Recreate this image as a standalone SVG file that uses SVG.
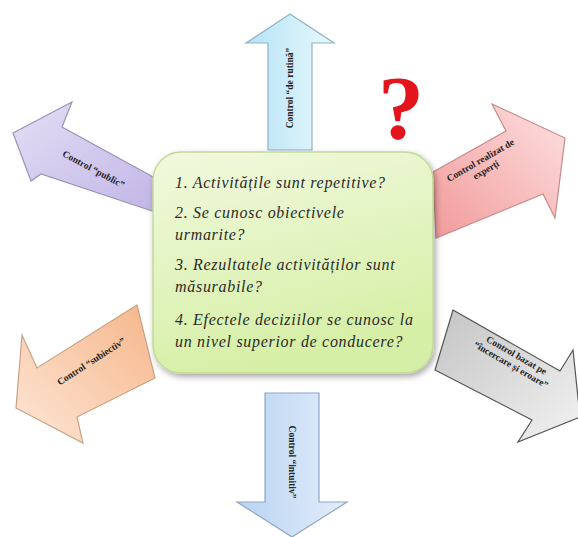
<svg xmlns="http://www.w3.org/2000/svg" width="578" height="537" viewBox="0 0 578 537">
<defs>
<linearGradient id="gUp" x1="0" y1="0" x2="1" y2="0"><stop offset="0" stop-color="#b4e3f5"/><stop offset="1" stop-color="#e9f8fd"/></linearGradient>
<linearGradient id="gDown" x1="0" y1="0" x2="1" y2="0"><stop offset="0" stop-color="#b9d3f2"/><stop offset="1" stop-color="#e3edfa"/></linearGradient>
<linearGradient id="gPurple" x1="0" y1="0" x2="1" y2="1"><stop offset="0" stop-color="#e3def5"/><stop offset="1" stop-color="#c2b6e6"/></linearGradient>
<linearGradient id="gRed" x1="0" y1="1" x2="1" y2="0"><stop offset="0" stop-color="#f29a9a"/><stop offset="1" stop-color="#fde1e1"/></linearGradient>
<linearGradient id="gOrange" x1="1" y1="0" x2="0" y2="1"><stop offset="0" stop-color="#f6b68a"/><stop offset="1" stop-color="#fde6d6"/></linearGradient>
<linearGradient id="gGray" x1="0" y1="0" x2="1" y2="1"><stop offset="0" stop-color="#c4c4c4"/><stop offset="1" stop-color="#f2f2f2"/></linearGradient>
<linearGradient id="gBox" x1="0" y1="0" x2="0.3" y2="1"><stop offset="0" stop-color="#f1f9de"/><stop offset="1" stop-color="#d6efa6"/></linearGradient>
<filter id="sh" x="-10%" y="-10%" width="125%" height="125%"><feGaussianBlur in="SourceAlpha" stdDeviation="3"/><feOffset dx="2" dy="3"/><feComponentTransfer><feFuncA type="linear" slope="0.35"/></feComponentTransfer><feMerge><feMergeNode/><feMergeNode in="SourceGraphic"/></feMerge></filter>
</defs>
<style>
.arr{stroke-width:1.2;stroke-linejoin:miter}
.lbl{font-family:"Liberation Serif","Times New Roman",serif;font-size:9.5px;font-weight:bold;fill:#222;text-anchor:middle}
.q{font-family:"Liberation Serif","Times New Roman",serif;font-size:16px;font-style:italic;letter-spacing:0.7px;fill:#2a2a2a}
</style>
<g id="connectors">
<g id="arrow-up"><polygon class="arr" points="268,150 268,43 246,43 290,14 334,43 312,43 312,150" fill="url(#gUp)" stroke="#8fb3c2"/>
<text class="lbl" transform="translate(293,88) rotate(-90)">Control “de rutină”</text></g>
<g id="arrow-down"><polygon class="arr" points="265,393 319,393 319,502 347,502 292,537 237,502 265,502" fill="url(#gDown)" stroke="#8fa6c4"/>
<text class="lbl" transform="translate(289,462) rotate(90)">Control “intuitiv”</text></g>
<g id="arrow-public"><polygon class="arr" points="155,178 62,127 72,102 13,133 31,181 41,174 155,212" fill="url(#gPurple)" stroke="#9a92b8"/>
<text class="lbl" transform="translate(92,172) rotate(28)">Control “public”</text></g>
<g id="arrow-experti"><polygon class="arr" points="433,172 506,131 492,104 565,138 555,218 543,194 436,238" fill="url(#gRed)" stroke="#c98a8a"/>
<text class="lbl" transform="translate(482,163) rotate(-30)"><tspan x="0" y="0">Control realizat de</tspan><tspan x="0" y="11">experți</tspan></text></g>
<g id="arrow-subiectiv"><polygon class="arr" points="137,305 37,368 22,335 16,408 83,443 77,417 155,378" fill="url(#gOrange)" stroke="#c9a283"/>
<text class="lbl" transform="translate(93,364) rotate(-33)">Control “subiectiv”</text></g>
<g id="arrow-incercare"><polygon class="arr" points="453,310 560,371 573,350 580,417 518,442 532,420 435,370" fill="url(#gGray)" stroke="#555"/>
<text class="lbl" transform="translate(515,358) rotate(30)"><tspan x="0" y="0">Control bazat pe</tspan><tspan x="0" y="11">“încercare și eroare”</tspan></text></g>
</g>
<g id="center-box">
<rect x="153" y="152" width="280" height="221" rx="28" ry="28" fill="url(#gBox)" stroke="#c3d99a" stroke-width="1.5" filter="url(#sh)"/>
<text class="q" x="175" y="188">1. Activitățile sunt repetitive?</text>
<text class="q" x="175" y="218">2. Se cunosc obiectivele</text>
<text class="q" x="175" y="240">urmarite?</text>
<text class="q" x="175" y="270">3. Rezultatele activităților sunt</text>
<text class="q" x="175" y="292">măsurabile?</text>
<text class="q" x="175" y="325">4. Efectele deciziilor se cunosc la</text>
<text class="q" x="175" y="347">un nivel superior de conducere?</text>
</g>
<g id="question-mark">
<text x="401" y="139" font-family="Liberation Serif, Times New Roman, serif" font-size="92" font-weight="bold" fill="#e3141c" text-anchor="middle">?</text>
</g>
</svg>
